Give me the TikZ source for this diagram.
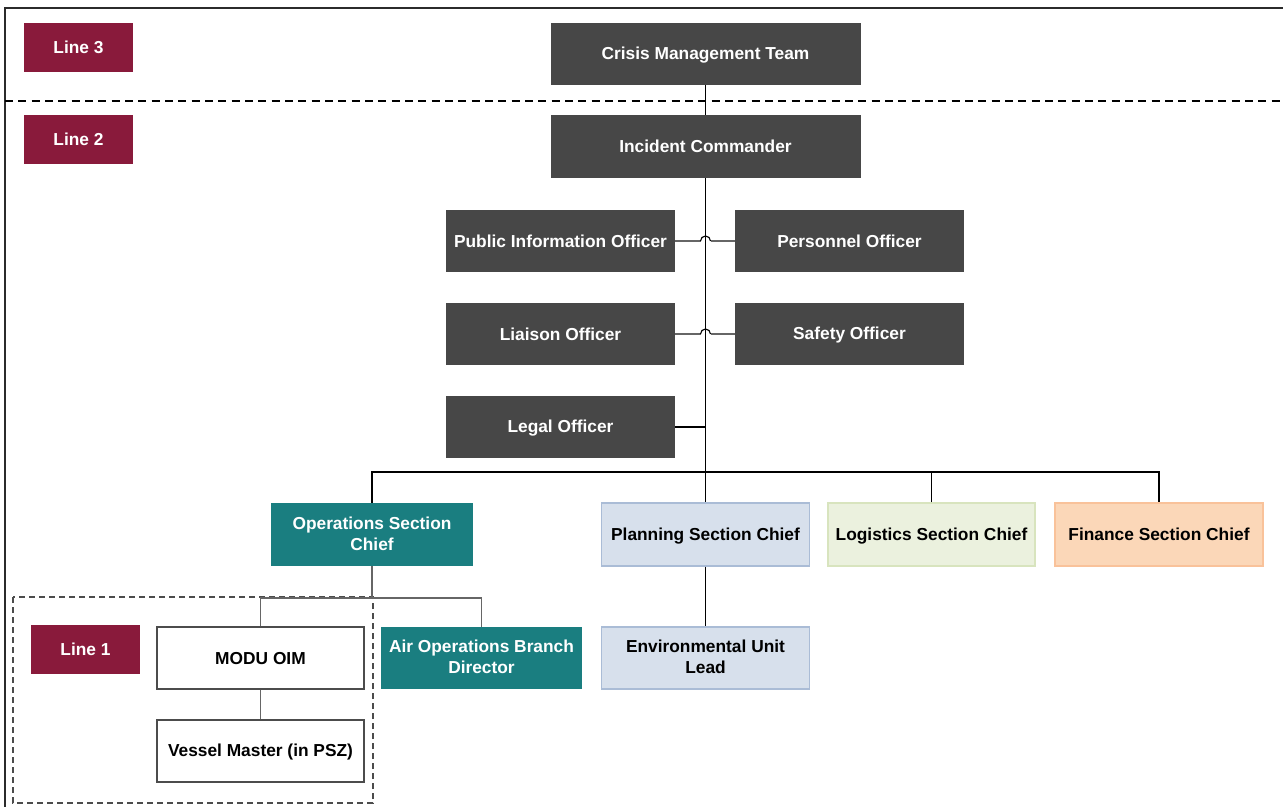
\documentclass[tikz,border=0pt]{standalone}
\usepackage{fontspec}
\setmainfont{Liberation Sans}
\definecolor{maroon}{HTML}{891A3B}
\definecolor{darkbox}{HTML}{474747}
\definecolor{tealbox}{HTML}{1A7E80}
\definecolor{planfill}{HTML}{D7E0EC}
\definecolor{planline}{HTML}{AABCD6}
\definecolor{logfill}{HTML}{EBF1DE}
\definecolor{logline}{HTML}{D8E4BE}
\definecolor{finfill}{HTML}{FBD7B8}
\definecolor{finline}{HTML}{F9C29A}
\definecolor{framecol}{HTML}{2B2B2B}
% balanced strut so capitals sit centred in each box
\newcommand{\capstrut}{\rule[-1.7pt]{0pt}{12.7pt}}
\begin{document}
\begin{tikzpicture}[x=0.75pt,y=0.75pt,
  every node/.style={inner sep=0pt, align=center,
    font=\fontsize{13}{15.6}\selectfont\bfseries,
    execute at begin node={\capstrut}, execute at end node={\capstrut}},
  sz/.style 2 args={minimum width=#1*0.75pt, minimum height=#2*0.75pt},
  linebox/.style={fill=maroon, text=white, sz={109}{49}},
  darkbox/.style={fill=darkbox, text=white},
  tealbox/.style={fill=tealbox, text=white},
  planbox/.style={fill=planfill, draw=planline, line width=0.8pt, text=black},
  logbox/.style={fill=logfill, draw=logline, line width=0.8pt, text=black},
  finbox/.style={fill=finfill, draw=finline, line width=0.8pt, text=black},
  whitebox/.style={fill=white, draw=black!70, line width=0.9pt, text=black},
  link/.style={draw=black, line width=0.85pt},
  sidelink/.style={draw=black!60, line width=0.85pt},
]
\useasboundingbox (0,0) rectangle (1283,-807);

% outer frame (open at right and bottom) and tier separator
\draw[framecol, line width=1.5pt] (5,-807) -- (5,-8) -- (1283,-8);
\draw[black, line width=1pt, dash pattern=on 6pt off 4pt] (5,-101) -- (1283,-101);
% Line 1 zone
\draw[black!70, line width=1pt, dash pattern=on 4.5pt off 3pt] (13,-597) rectangle (373,-803);

% tier tags
\node[linebox] (l3) at (78.5,-47.5) {Line 3};
\node[linebox] (l2) at (78.5,-139.5) {Line 2};
\node[linebox] (l1) at (85.5,-649) {Line 1};

% command staff
\node[darkbox, sz={310}{62}] (cmt) at (705.5,-54) {Crisis Management Team};
\node[darkbox, sz={310}{63}] (ic) at (705.5,-146.5) {Incident Commander};
\node[darkbox, sz={229}{62}] (pio) at (560.5,-241) {Public Information Officer};
\node[darkbox, sz={229}{62}] (po) at (849.5,-241) {Personnel Officer};
\node[darkbox, sz={229}{62}] (lo) at (560.5,-334) {Liaison Officer};
\node[darkbox, sz={229}{62}] (so) at (849.5,-334) {Safety Officer};
\node[darkbox, sz={229}{62}] (legal) at (560.5,-427) {Legal Officer};

% general staff
\node[tealbox, sz={202}{63}] (ops) at (372,-534.5) {Operations Section\\Chief};
\node[planbox, sz={208}{63}] (plan) at (705.5,-534.5) {Planning Section Chief};
\node[logbox, sz={207}{63}] (log) at (931.5,-534.5) {Logistics Section Chief};
\node[finbox, sz={208}{63}] (fin) at (1159,-534.5) {Finance Section Chief};

% units
\node[whitebox, sz={207}{62}] (modu) at (260.5,-658) {MODU OIM};
\node[whitebox, sz={207}{62}] (vm) at (260.5,-751) {Vessel Master (in PSZ)};
\node[tealbox, sz={201}{62}] (air) at (481.5,-658) {Air Operations Branch\\Director};
\node[planbox, sz={208}{62}] (env) at (705.5,-658) {Environmental Unit\\Lead};

% spine
\coordinate (bus) at (705.5,-472);
\draw[link] (cmt.south) -- (ic.north);
\draw[link] (ic.south) -- (plan.north);

% staff officers crossing the spine
\coordinate (hop1) at (700.5,-241);
\coordinate (hop2) at (700.5,-334);
\draw[sidelink] (pio.east) -- (hop1);
\draw[link] (hop1) arc[start angle=180, end angle=0, radius=3.75pt];
\draw[sidelink] ([xshift=7.5pt]hop1) -- (po.west);
\draw[sidelink] (lo.east) -- (hop2);
\draw[link] (hop2) arc[start angle=180, end angle=0, radius=3.75pt];
\draw[sidelink] ([xshift=7.5pt]hop2) -- (so.west);
\draw[link] (legal.east) -- (legal.east -| ic.south);

% section bus
\draw[link] (ops.north) -- (ops.north |- bus) -- (fin.north |- bus) -- (fin.north);
\draw[link] (log.north) -- (log.north |- bus);

% operations branch
\coordinate (obus) at (372,-598);
\draw[sidelink] (ops.south) -- (obus);
\draw[sidelink] (modu.north) -- (modu.north |- obus) -- (air.north |- obus) -- (air.north);
\draw[sidelink] (modu.south) -- (vm.north);
\draw[link] (plan.south) -- (env.north);
\end{tikzpicture}
\end{document}
